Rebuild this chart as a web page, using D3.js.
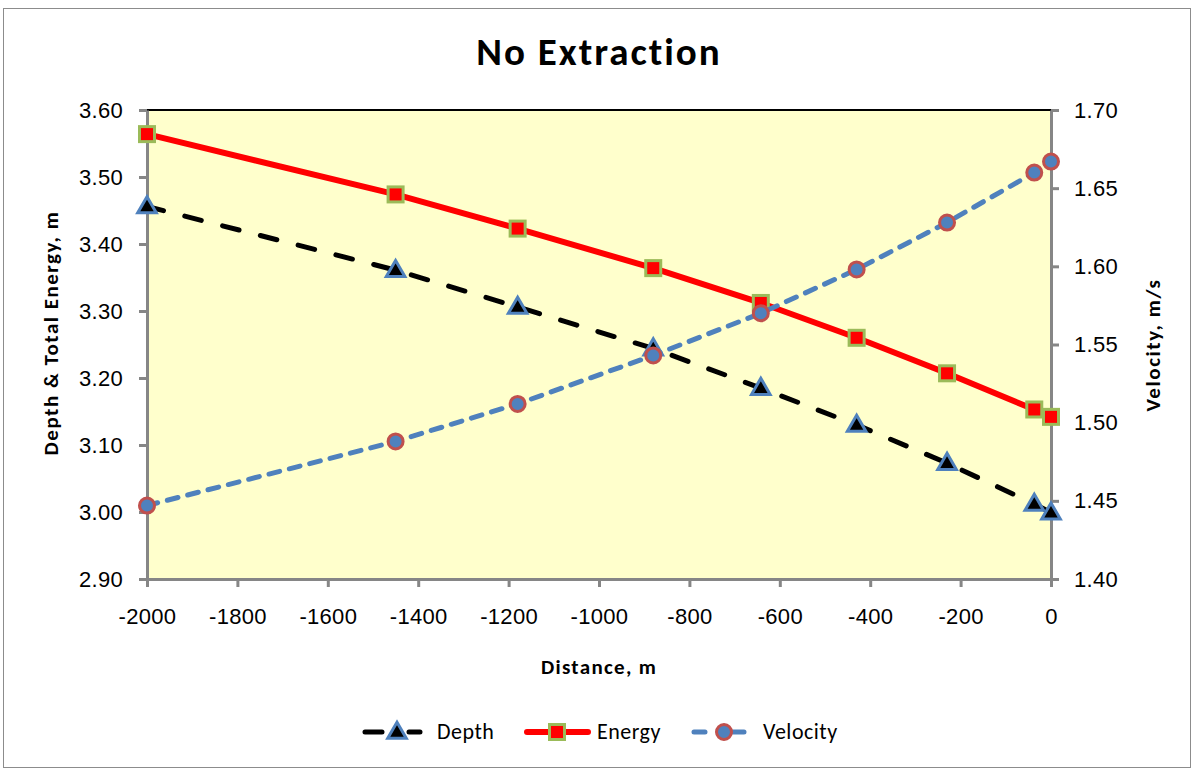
<!DOCTYPE html>
<html><head><meta charset="utf-8">
<script src="https://cdn.jsdelivr.net/npm/d3@7"></script>
<style>
html,body{margin:0;padding:0;background:#fff;}
svg{display:block;font-family:Carlito, Calibri, Lato, "Open Sans", sans-serif;}
</style></head>
<body>
<svg id="chart" width="1195" height="769"></svg>
<script>
const distance = [-2000, -1450, -1180, -880, -642, -430, -230, -37, 0];
const depth    = [3.456, 3.361, 3.306, 3.244, 3.185, 3.130, 3.073, 3.012, 2.999];
const energy   = [3.564, 3.474, 3.423, 3.364, 3.312, 3.260, 3.207, 3.153, 3.142];
const velocity = [1.447, 1.488, 1.512, 1.543, 1.570, 1.598, 1.628, 1.660, 1.667];
const xTicks = [-2000,-1800,-1600,-1400,-1200,-1000,-800,-600,-400,-200,0];
const yLeftTicks = [2.9,3.0,3.1,3.2,3.3,3.4,3.5,3.6];
const yRightTicks = [1.40,1.45,1.50,1.55,1.60,1.65,1.70];
const seriesNames = ["Depth","Energy","Velocity"];

const svg = d3.select("#chart");
const L = 147, R = 1051, T = 110, B = 579;
const x = d3.scaleLinear().domain([-2000, 0]).range([L, R]);
const yL = d3.scaleLinear().domain([2.9, 3.6]).range([B, T]);
const yR = d3.scaleLinear().domain([1.4, 1.7]).range([B, T]);

// outer border
svg.append("rect").attr("x",3.5).attr("y",8.5).attr("width",1187).attr("height",759)
  .attr("fill","#fff").attr("stroke","#8c8c8c").attr("stroke-width",1);

// plot area
svg.append("rect").attr("x",L).attr("y",T).attr("width",R-L).attr("height",B-T)
  .attr("fill","#ffffcc").attr("stroke","#000").attr("stroke-width",2);

const axisColor = "#868686";
function styleAxis(g){
  g.select(".domain").attr("stroke",axisColor).attr("stroke-width",3);
  g.selectAll(".tick line").attr("stroke",axisColor).attr("stroke-width",3);
  g.selectAll(".tick text").attr("fill","#000").style("font-size","22px").style("letter-spacing","0.3px");
}
const gx = svg.append("g").attr("transform",`translate(0,${B})`)
  .call(d3.axisBottom(x).tickValues(xTicks).tickSize(8).tickSizeOuter(0).tickPadding(21).tickFormat(d=>String(d)));
styleAxis(gx);
const gl = svg.append("g").attr("transform",`translate(${L},0)`)
  .call(d3.axisLeft(yL).tickValues(yLeftTicks).tickSize(8).tickSizeOuter(0).tickPadding(16).tickFormat(d3.format(".2f")));
styleAxis(gl);
const gr = svg.append("g").attr("transform",`translate(${R},0)`)
  .call(d3.axisRight(yR).tickValues(yRightTicks).tickSize(8).tickSizeOuter(0).tickPadding(15).tickFormat(d3.format(".2f")));
styleAxis(gr);

// titles
svg.append("text").attr("x",599).attr("y",65).attr("text-anchor","middle")
  .style("font-size","39px").style("font-weight","bold").style("letter-spacing","2px").text("No Extraction");
svg.append("text").attr("x",599).attr("y",674).attr("text-anchor","middle")
  .style("font-size","21px").style("font-weight","bold").style("letter-spacing","1.3px").text("Distance, m");
svg.append("text").attr("transform","translate(58,333) rotate(-90)").attr("text-anchor","middle")
  .style("font-size","21px").style("font-weight","bold").style("letter-spacing","1.5px").text("Depth & Total Energy, m");
svg.append("text").attr("transform","translate(1160,345) rotate(-90)").attr("text-anchor","middle")
  .style("font-size","21px").style("font-weight","bold").style("letter-spacing","1.6px").text("Velocity, m/s");

const styles = {
  Depth:{color:"#000", width:5, dash:"17,22"},
  Energy:{color:"#ff0000", width:6, dash:null},
  Velocity:{color:"#4f81bd", width:5, dash:"11,10"}
};
function marker(g, name, cx, cy){
  if(name==="Depth"){
    const tri = d3.symbol().type(d3.symbolTriangle).size(150);
    g.append("path").attr("d",tri()).attr("transform",`translate(${cx},${cy+1})`)
      .attr("fill","#000").attr("stroke","#4f81bd").attr("stroke-width",3);
  } else if(name==="Energy"){
    g.append("rect").attr("x",cx-7.5).attr("y",cy-7.5).attr("width",15).attr("height",15)
      .attr("fill","#ff0000").attr("stroke","#9bbb59").attr("stroke-width",3);
  } else {
    g.append("circle").attr("cx",cx).attr("cy",cy).attr("r",7.5)
      .attr("fill","#4f81bd").attr("stroke","#c0504d").attr("stroke-width",3);
  }
}
const data = {
  Depth: distance.map((d,i)=>[d, depth[i]]),
  Energy: distance.map((d,i)=>[d, energy[i]]),
  Velocity: distance.map((d,i)=>[d, velocity[i]])
};
seriesNames.forEach(name=>{
  const ys = name==="Velocity" ? yR : yL;
  const st = styles[name];
  const g = svg.append("g");
  const line = d3.line().x(d=>x(d[0])).y(d=>ys(d[1]));
  const p = g.append("path").datum(data[name]).attr("d",line).attr("fill","none")
    .attr("stroke",st.color).attr("stroke-width",st.width)
    .attr("stroke-linecap", st.dash ? "round" : "butt").attr("stroke-linejoin","round");
  if(st.dash) p.attr("stroke-dasharray",st.dash);
  data[name].forEach(d=>marker(g,name,x(d[0]),ys(d[1])));
});

// legend
const legendItems = [
  {name:"Depth", x0:362, x1:423, mx:397, tx:437},
  {name:"Energy", x0:524, x1:591, mx:557, tx:597},
  {name:"Velocity", x0:691, x1:752, mx:724, tx:763}
];
const ly = 732;
legendItems.forEach(it=>{
  const st = styles[it.name];
  const g = svg.append("g");
  const l = g.append("line").attr("x1",it.x0+3).attr("x2",it.x1-3).attr("y1",ly).attr("y2",ly)
    .attr("stroke",st.color).attr("stroke-width",st.width).attr("stroke-linecap","round");
  if(it.name==="Depth") l.attr("stroke-dasharray","17,27");
  if(it.name==="Velocity") l.attr("stroke-dasharray","11,28");
  marker(g,it.name,it.mx,ly);
  g.append("text").attr("x",it.tx).attr("y",ly+7).style("font-size","22px").style("letter-spacing","0.5px").text(it.name);
});
</script>
</body></html>
